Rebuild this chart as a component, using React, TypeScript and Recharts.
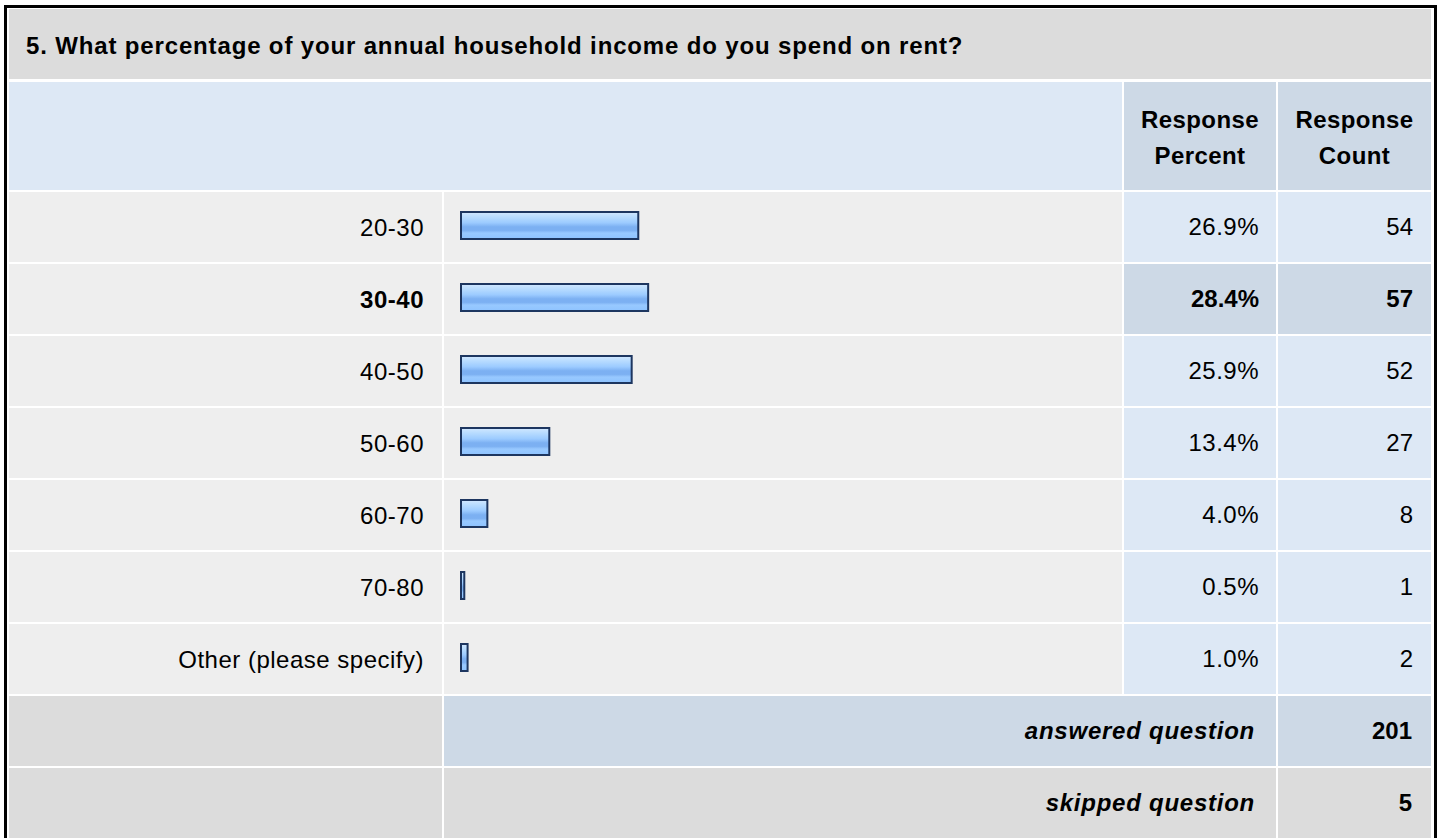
import { BarChart, Bar, XAxis, YAxis, Cell } from 'recharts';

const question = '5. What percentage of your annual household income do you spend on rent?';
const categories = ['20-30', '30-40', '40-50', '50-60', '60-70', '70-80', 'Other (please specify)'];
const percents = [26.9, 28.4, 25.9, 13.4, 4.0, 0.5, 1.0];
const counts = [54, 57, 52, 27, 8, 1, 2];
const answeredCount = 201;
const skippedCount = 5;

const FONT = '"Liberation Sans", Arial, Helvetica, sans-serif';
const GRAY = '#dcdcdc';
const LIGHT_BLUE = '#dde8f5';
const DARK_BLUE = '#cdd9e6';
const ROW_BG = '#eeeeee';

// column x / width, row geometry (px on the page)
const C_LABEL = [9, 433];
const C_BAR = [444, 678];
const C_PCT = [1124, 152];
const C_CNT = [1278, 153];
const ROW_TOP = 192;
const ROW_PITCH = 72;
const ROW_H = 70;

const maxIdx = counts.indexOf(Math.max(...counts));

const data = categories.map((name, i) => ({ name, value: percents[i] }));

type BoxProps = {
  x: number;
  y: number;
  w: number;
  h: number;
  bg: string;
  align?: 'flex-end' | 'center' | 'flex-start';
  bold?: boolean;
  italic?: boolean;
  pad?: number;
  padTop?: number;
  ls?: number;
  children?: any;
};

function Box({ x, y, w, h, bg, align = 'flex-end', bold, italic, pad = 17, padTop = 0, ls = 0, children }: BoxProps) {
  return (
    <div
      style={{
        position: 'absolute',
        left: x,
        top: y,
        width: w,
        height: h,
        background: bg,
        display: 'flex',
        alignItems: 'center',
        justifyContent: align,
        boxSizing: 'border-box',
        paddingLeft: align === 'flex-start' ? pad : 0,
        paddingRight: align === 'flex-end' ? pad : 0,
        paddingTop: padTop,
        fontFamily: FONT,
        fontSize: 24,
        fontWeight: bold ? 'bold' : 'normal',
        fontStyle: italic ? 'italic' : 'normal',
        letterSpacing: ls,
        color: '#000',
        textAlign: align === 'center' ? 'center' : 'right',
        lineHeight: '36px',
        whiteSpace: 'nowrap',
      }}
    >
      {children}
    </div>
  );
}

function LabelTick(props: any) {
  const { x, y, payload } = props;
  const bold = payload.value === categories[maxIdx];
  return (
    <text
      x={x}
      y={y + 2}
      dy="0.355em"
      textAnchor="end"
      fill="#000"
      fontFamily={FONT}
      fontSize={24}
      letterSpacing={0.5}
      fontWeight={bold ? 'bold' : 'normal'}
    >
      {payload.value}
    </text>
  );
}

export default function App() {
  const answeredTop = ROW_TOP + ROW_PITCH * categories.length;
  const skippedTop = answeredTop + ROW_PITCH;

  return (
    <div style={{ position: 'absolute', left: 0, top: 0, width: 1440, height: 838, background: '#fff', overflow: 'hidden' }}>
      <div
        style={{
          position: 'absolute',
          left: 4,
          top: 5,
          width: 1433,
          height: 900,
          border: '3px solid #000',
          boxSizing: 'border-box',
        }}
      />

      <Box x={9} y={9} w={1422} h={70} bg={GRAY} align="flex-start" bold pad={17} padTop={4} ls={0.85}>
        {question}
      </Box>

      <Box x={C_LABEL[0]} y={82} w={C_BAR[0] + C_BAR[1] - C_LABEL[0]} h={108} bg={LIGHT_BLUE} />
      <Box x={C_PCT[0]} y={82} w={C_PCT[1]} h={108} bg={DARK_BLUE} align="center" bold padTop={4} ls={0.4}>
        Response
        <br />
        Percent
      </Box>
      <Box x={C_CNT[0]} y={82} w={C_CNT[1]} h={108} bg={DARK_BLUE} align="center" bold padTop={4} ls={0.4}>
        Response
        <br />
        Count
      </Box>

      {categories.map((c, i) => {
        const top = ROW_TOP + ROW_PITCH * i;
        const hi = i === maxIdx;
        return (
          <div key={c}>
            <Box x={C_LABEL[0]} y={top} w={C_LABEL[1]} h={ROW_H} bg={ROW_BG} />
            <Box x={C_BAR[0]} y={top} w={C_BAR[1]} h={ROW_H} bg={ROW_BG} />
            <Box x={C_PCT[0]} y={top} w={C_PCT[1]} h={ROW_H} bg={hi ? DARK_BLUE : LIGHT_BLUE} bold={hi} ls={hi ? 0 : 0.5}>
              {percents[i].toFixed(1)}%
            </Box>
            <Box x={C_CNT[0]} y={top} w={C_CNT[1]} h={ROW_H} bg={hi ? DARK_BLUE : LIGHT_BLUE} bold={hi} pad={18}>
              {counts[i]}
            </Box>
          </div>
        );
      })}

      <Box x={C_LABEL[0]} y={answeredTop} w={C_LABEL[1]} h={ROW_H} bg={GRAY} />
      <Box x={C_BAR[0]} y={answeredTop} w={C_PCT[0] + C_PCT[1] - C_BAR[0]} h={ROW_H} bg={DARK_BLUE} bold italic pad={21} ls={0.75}>
        answered question
      </Box>
      <Box x={C_CNT[0]} y={answeredTop} w={C_CNT[1]} h={ROW_H} bg={DARK_BLUE} bold pad={19}>
        {answeredCount}
      </Box>

      <Box x={C_LABEL[0]} y={skippedTop} w={C_LABEL[1]} h={ROW_H} bg={GRAY} />
      <Box x={C_BAR[0]} y={skippedTop} w={C_PCT[0] + C_PCT[1] - C_BAR[0]} h={ROW_H} bg={GRAY} bold italic pad={21} ls={0.75}>
        skipped question
      </Box>
      <Box x={C_CNT[0]} y={skippedTop} w={C_CNT[1]} h={ROW_H} bg={GRAY} bold pad={19}>
        {skippedCount}
      </Box>

      <div style={{ position: 'absolute', left: 9, top: 189 }}>
        <BarChart
          width={1111}
          height={504}
          data={data}
          layout="vertical"
          margin={{ top: 0, right: 0, bottom: 0, left: 0 }}
        >
          <defs>
            <linearGradient id="barGrad" x1="0" y1="0" x2="0" y2="1">
              <stop offset="0%" stopColor="#d2e8ff" />
              <stop offset="18%" stopColor="#b8dcff" />
              <stop offset="40%" stopColor="#9ccbff" />
              <stop offset="55%" stopColor="#7cb0f2" />
              <stop offset="68%" stopColor="#7cb0f2" />
              <stop offset="78%" stopColor="#98c9ff" />
              <stop offset="100%" stopColor="#8ec3ff" />
            </linearGradient>
          </defs>
          <XAxis type="number" domain={[0, 100]} hide />
          <YAxis
            type="category"
            dataKey="name"
            width={452}
            axisLine={false}
            tickLine={false}
            tickMargin={31}
            interval={0}
            tick={<LabelTick />}
          />
          <Bar
            dataKey="value"
            barSize={27}
            fill="url(#barGrad)"
            stroke="#1d3660"
            strokeWidth={2}
            isAnimationActive={false}
          >
            {data.map((d, i) => (
              <Cell key={i} fill="url(#barGrad)" />
            ))}
          </Bar>
        </BarChart>
      </div>
    </div>
  );
}
